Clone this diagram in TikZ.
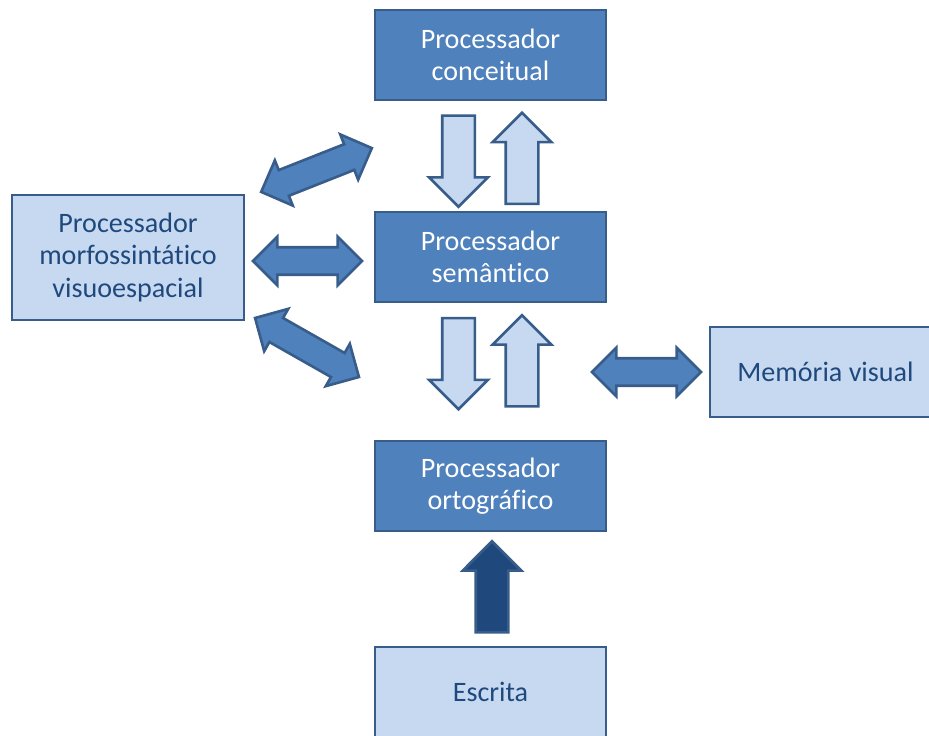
\documentclass[tikz,border=0pt]{standalone}
\usepackage{fontspec}
\setmainfont[Ligatures=NoCommon]{Carlito}
\usetikzlibrary{shapes.arrows}

\definecolor{azulesc}{HTML}{4F81BD}
\definecolor{azulcla}{HTML}{C6D9F1}
\definecolor{azulbor}{HTML}{385D8A}
\definecolor{azultxt}{HTML}{1F497D}

\tikzset{
  caixa/.style={draw=azulbor, line width=1.5pt, minimum width=4.62cm,
    minimum height=1.8cm, align=center, font=\fontsize{16}{18.5}\selectfont},
  escura/.style={caixa, fill=azulesc, text=white},
  clara/.style={caixa, fill=azulcla, text=azultxt},
  seta/.style={single arrow, draw=azulbor, line width=1.5pt, inner xsep=0pt,
    inner ysep=0.3cm, single arrow head extend=0.26cm, minimum width=0pt,
    minimum height=1.82cm},
  setadupla/.style={double arrow, draw=azulbor, fill=azulesc, line width=1.5pt,
    inner xsep=0pt, inner ysep=0.25cm, double arrow head extend=0.21cm,
    minimum width=0pt, minimum height=2.2cm}
}

\begin{document}
\begin{tikzpicture}[x=0.02cm, y=-0.02cm]
	\useasboundingbox (0,0) rectangle (929,736);

	% Caixas
	\node[escura] (conceitual) at (490.5,55) {Processador\\conceitual};
	\node[escura] (semantico) at (490.5,257) {Processador\\semântico};
	\node[escura] (ortografico) at (490.5,486) {Processador\\ortográfico};
	\node[clara] (escrita) at (490.5,692) {Escrita};
	\node[clara, minimum width=4.64cm, minimum height=2.5cm] (morfo) at (128,257.5)
		{Processador\\morfossintático\\visuoespacial};
	\node[clara] (memoria) at (825.5,372) {Memória visual};

	% Setas entre os processadores
	\node[seta, fill=azulcla, rotate=-90] (desce1) at (458.5,153) {};
	\node[seta, fill=azulcla, rotate=90] (sobe1) at (522,166.5) {};
	\node[seta, fill=azulcla, rotate=-90] (desce2) at (458.5,355.5) {};
	\node[seta, fill=azulcla, rotate=90] (sobe2) at (522,369) {};
	\node[seta, fill=azultxt, rotate=90] (entrada) at (492,595) {};

	% Setas duplas
	\node[setadupla, minimum height=2.38cm, rotate=21.6] (dupla1) at (316.5,170) {};
	\node[setadupla, minimum height=2.18cm] (dupla2) at (307.5,261) {};
	\node[setadupla, minimum height=2.39cm, rotate=-29.6] (dupla3) at (307,347.5) {};
	\node[setadupla, minimum height=2.18cm] (dupla4) at (646.5,372) {};
\end{tikzpicture}
\end{document}
